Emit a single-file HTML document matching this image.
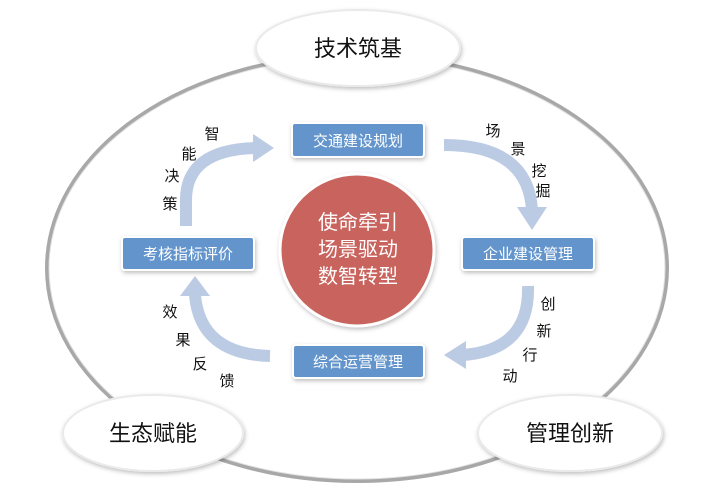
<!DOCTYPE html>
<html><head><meta charset="utf-8"><style>
body{margin:0;width:717px;height:501px;background:#fff;overflow:hidden;font-family:"Liberation Sans","Noto Sans CJK SC",sans-serif}
</style></head><body>
<svg width="717" height="501" viewBox="0 0 717 501" xmlns="http://www.w3.org/2000/svg" style="position:absolute;left:0;top:0">
<defs>
<filter id="sh" x="-20%" y="-20%" width="140%" height="140%"><feDropShadow dx="1" dy="2" stdDeviation="2" flood-color="#000" flood-opacity="0.25"/></filter>
</defs>
<ellipse cx="357" cy="268" rx="310" ry="213" fill="#fff" stroke="#a8a8a8" stroke-width="4"/>
<ellipse cx="357" cy="268" rx="308" ry="211" fill="none" stroke="#e0e0e0" stroke-width="1"/>
<g fill="none" stroke="#bccbe4" stroke-width="12">
<path d="M186 226 L186 200 Q186 150 255 148"/>
<path d="M444 145 Q528 145 532 210"/>
<path d="M528 286 Q530 350 463 355"/>
<path d="M270 356 Q200 354 195 295"/>
</g>
<g fill="#bccbe4">
<polygon points="253,134 274,148 253,162"/>
<polygon points="517,207 547,207 532,230"/>
<polygon points="466,341 466,369 444,355"/>
<polygon points="180,296 210,296 195,276"/>
</g>
<g filter="url(#sh)">
<ellipse cx="357" cy="250" rx="77" ry="76" fill="#c9645d" stroke="#fff" stroke-width="3"/>
<ellipse cx="358" cy="48" rx="102" ry="38" fill="#fff" stroke="#eaeaea" stroke-width="2"/>
<ellipse cx="153" cy="433" rx="90" ry="38" fill="#fff" stroke="#eaeaea" stroke-width="2"/>
<ellipse cx="570" cy="433" rx="92" ry="38" fill="#fff" stroke="#eaeaea" stroke-width="2"/>
<rect x="292" y="123" width="132" height="34" rx="3" fill="#6495cc" stroke="#fff" stroke-width="2"/>
<rect x="122" y="237" width="132" height="33" rx="3" fill="#6495cc" stroke="#fff" stroke-width="2"/>
<rect x="462" y="237" width="132" height="33" rx="3" fill="#6495cc" stroke="#fff" stroke-width="2"/>
<rect x="293" y="345" width="131" height="33" rx="3" fill="#6495cc" stroke="#fff" stroke-width="2"/>
</g>
<g font-family="Liberation Sans, Noto Sans CJK SC, sans-serif" text-anchor="middle">
<g fill="#fff" font-size="15">
<text x="358" y="146">交通建设规划</text>
<text x="188" y="259">考核指标评价</text>
<text x="528" y="259">企业建设管理</text>
<text x="358" y="367">综合运营管理</text>
</g>
<g fill="#fff" font-size="20">
<text x="358" y="229">使命牵引</text>
<text x="358" y="256">场景驱动</text>
<text x="358" y="283">数智转型</text>
</g>
<g fill="#111" font-size="22">
<text x="358" y="56">技术筑基</text>
<text x="153" y="441">生态赋能</text>
<text x="570" y="441">管理创新</text>
</g>
<g fill="#111" font-size="15">
<text x="212" y="139">智</text><text x="189" y="159">能</text><text x="172" y="181">决</text><text x="170" y="209">策</text>
<text x="493" y="136">场</text><text x="518" y="154">景</text><text x="539" y="176">挖</text><text x="543" y="196">掘</text>
<text x="548" y="309">创</text><text x="544" y="336">新</text><text x="530" y="360">行</text><text x="510" y="381">动</text>
<text x="170" y="317">效</text><text x="183" y="345">果</text><text x="200" y="369">反</text><text x="227" y="386">馈</text>
</g>
</g>
</svg>
</body></html>
